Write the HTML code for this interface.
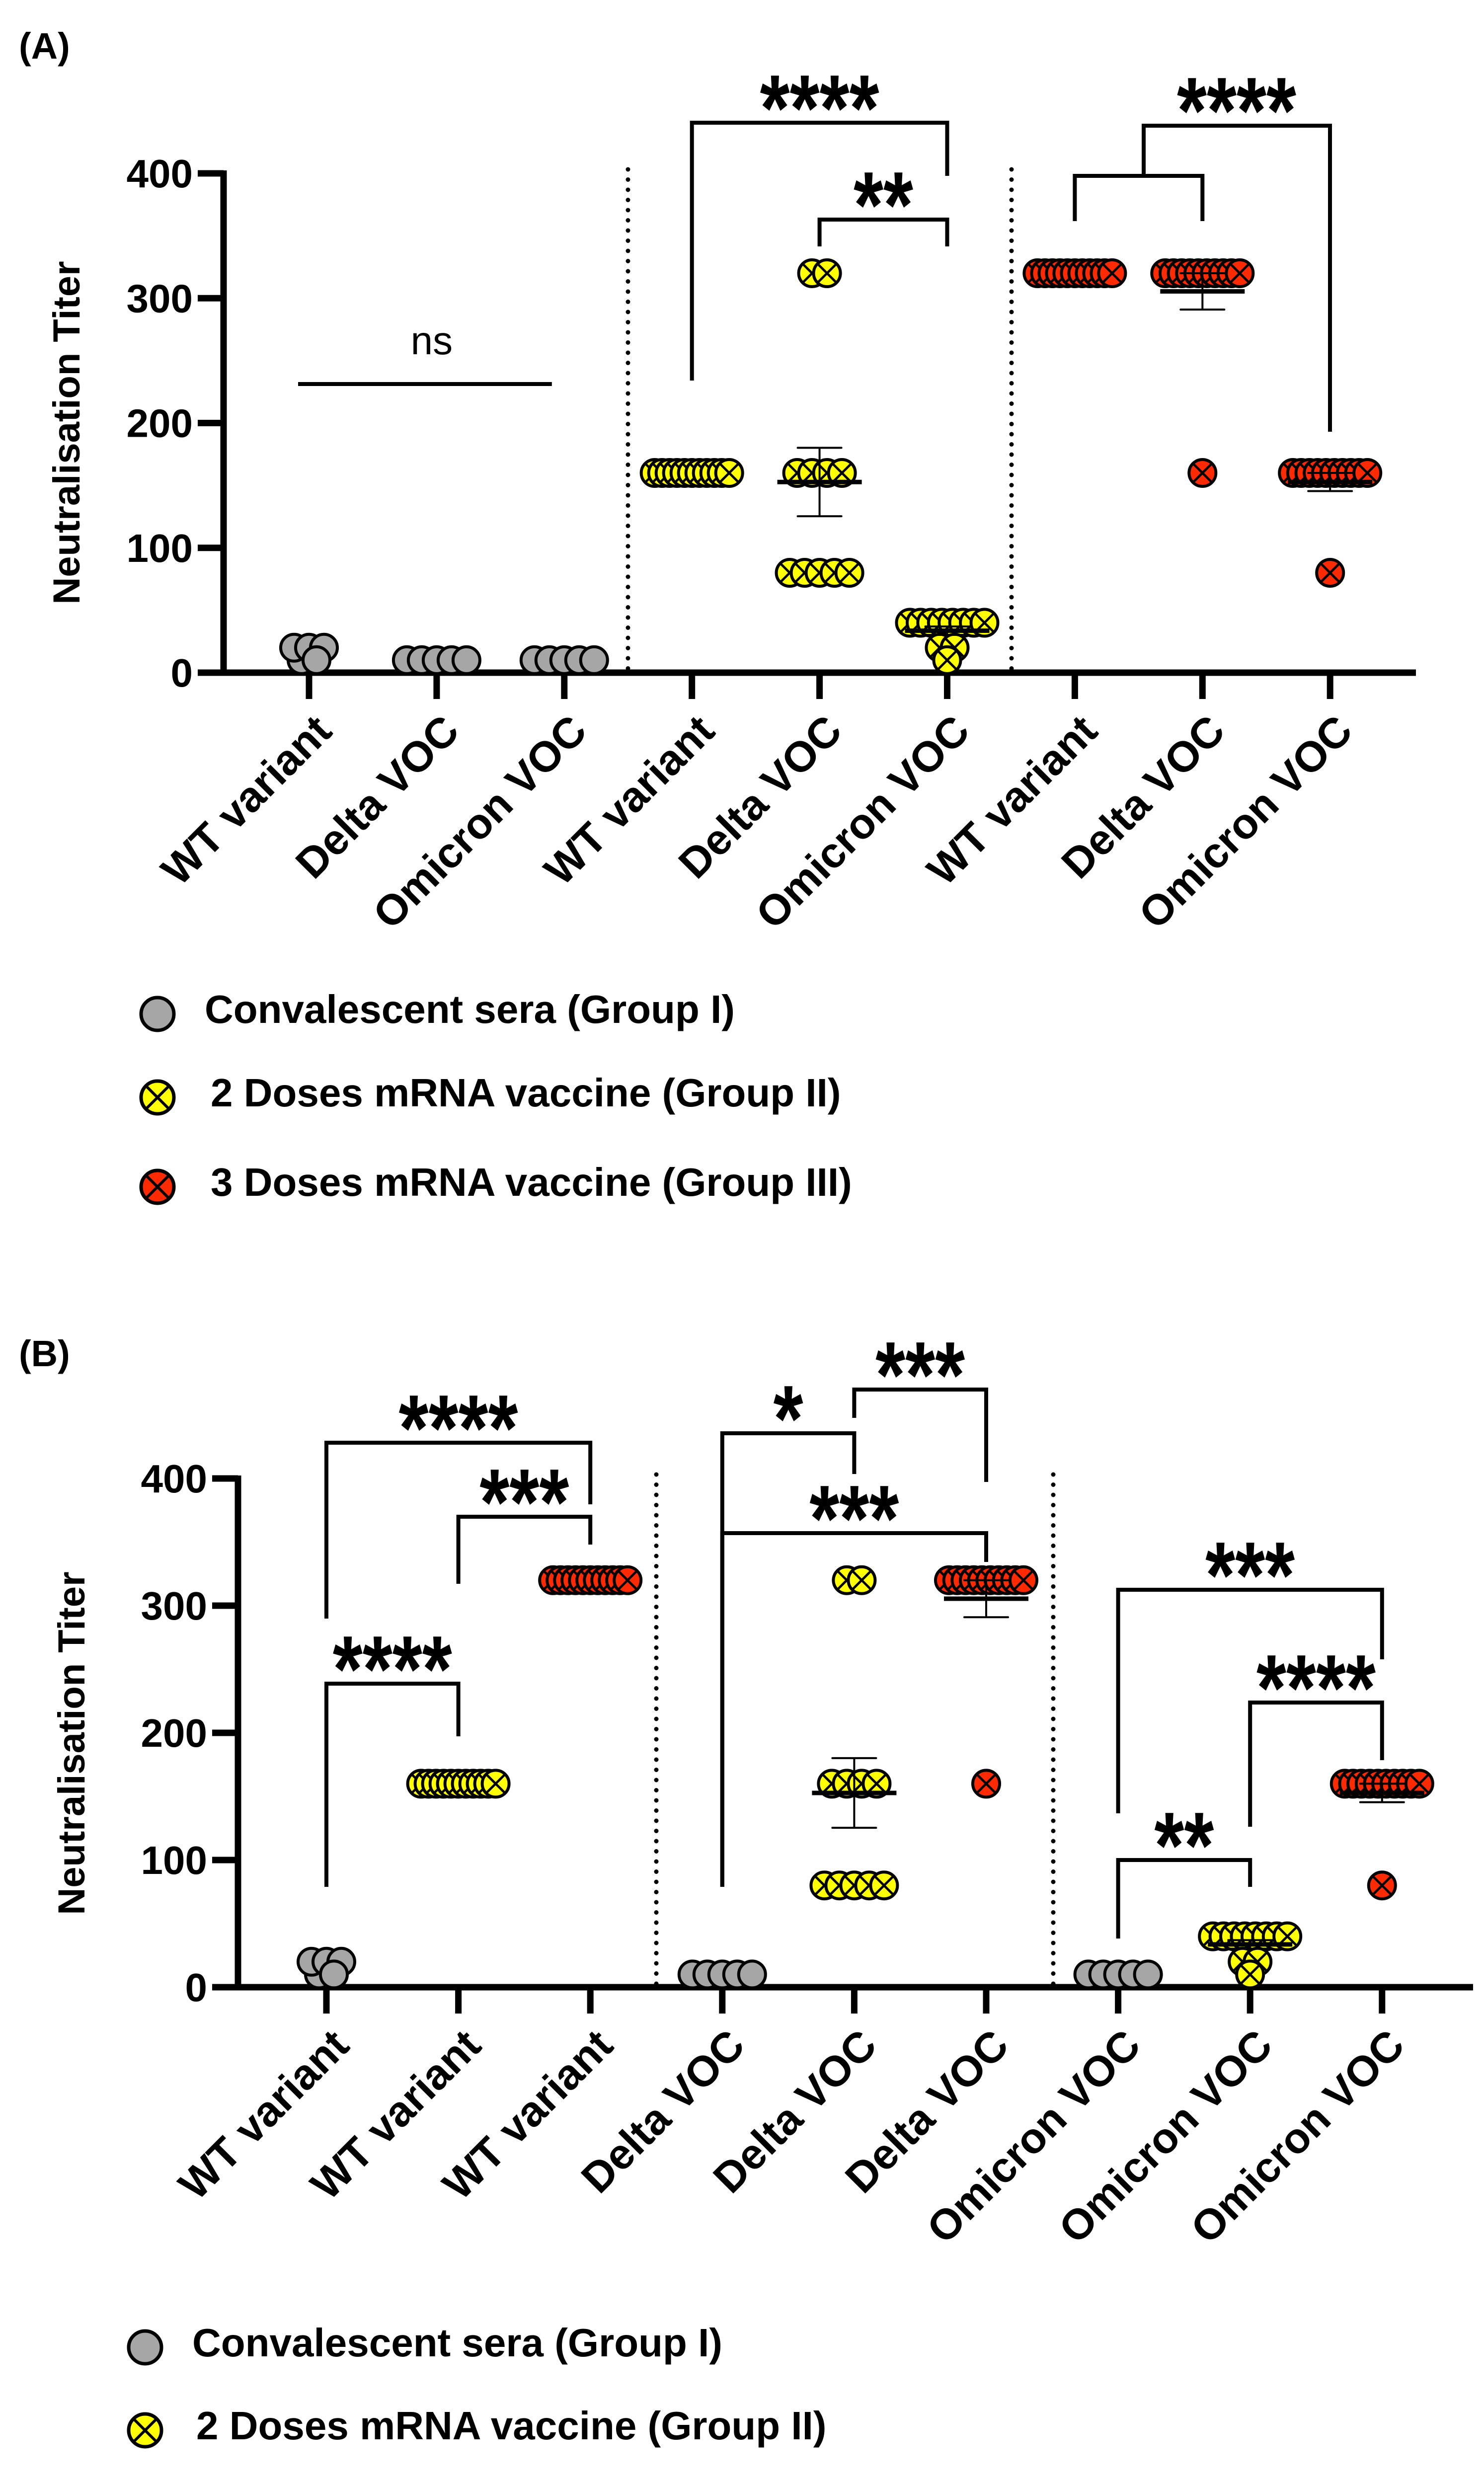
<!DOCTYPE html>
<html><head><meta charset="utf-8"><style>
html,body{margin:0;padding:0;background:#fff;width:2987px;height:5163px;overflow:hidden;}
svg{display:block;font-family:"Liberation Sans",Arial,sans-serif;}
</style></head><body>
<svg id="fig" xmlns="http://www.w3.org/2000/svg" width="2987" height="5163" viewBox="0 0 2987 5163">
<rect width="2987" height="5163" fill="#fff"/>
</svg>
<script>
// ---- data ----
const yTicks = [0, 100, 200, 300, 400];
const seriesNames = ["Convalescent sera (Group I)", "2 Doses mRNA vaccine (Group II)", "3 Doses mRNA vaccine (Group III)"];
const seriesLegendText = ["Convalescent sera (Group I)", "2 Doses mRNA vaccine (Group II)", "3 Doses mRNA vaccine (Group III)"];
const variants = ["WT variant", "Delta VOC", "Omicron VOC"];
const g1WT = [10, 20, 20, 20, 10];
const g1Delta = [10, 10, 10, 10, 10];
const g1Omicron = [10, 10, 10, 10, 10];
const g2WT = [160,160,160,160,160,160,160,160,160,160,160];
const g2Delta = [320,320,160,160,160,160,80,80,80,80,80];
const g2Omicron = [40,40,40,40,40,40,40,40,20,20,10];
const g3WT = [320,320,320,320,320,320,320,320,320,320,320];
const g3Delta = [320,320,320,320,320,320,320,320,320,320,160];
const g3Omicron = [160,160,160,160,160,160,160,160,160,160,80];
const panelALabels = ["WT variant","Delta VOC","Omicron VOC","WT variant","Delta VOC","Omicron VOC","WT variant","Delta VOC","Omicron VOC"];
const panelASeries = [0,0,0,1,1,1,2,2,2];
const panelAData = [g1WT,g1Delta,g1Omicron,g2WT,g2Delta,g2Omicron,g3WT,g3Delta,g3Omicron];
const panelBLabels = ["WT variant","WT variant","WT variant","Delta VOC","Delta VOC","Delta VOC","Omicron VOC","Omicron VOC","Omicron VOC"];
const panelBSeries = [0,1,2,0,1,2,0,1,2];
const panelBData = [g1WT,g2WT,g3WT,g1Delta,g2Delta,g3Delta,g1Omicron,g2Omicron,g3Omicron];
const panelASig = [
  [3,5,247,766,354,"****"],
  [4,5,442,496,496,"**"],
  [6,7,354,445,445,""],
];
const panelANs = [[0,2,773,"ns"]];
const panelBSig = [
  [0,2,2904,3258,3028,"****"],
  [1,2,3053,3188,3109,"***"],
  [0,1,3389,3798,3495,"****"],
  [3,4,2885,3798,2967,"*"],
  [4,5,2797,2854,2983,"***"],
  [3,5,3086,3798,3144,"***"],
  [6,8,3200,3650,3340,"***"],
  [7,8,3427,3677,3543,"****"],
  [6,7,3744,3902,3798,"**"],
];
const fills = ["#a6a6a6","#ffff00","#ff2a00"];
const NS = "http://www.w3.org/2000/svg";
const svg = document.getElementById("fig");
function mk(tag, attrs, parent){
  const e = document.createElementNS(NS, tag);
  for (const k in attrs) e.setAttribute(k, attrs[k]);
  (parent||svg).appendChild(e);
  return e;
}
function marker(g, cx, cy, r, s, sw){
  mk("circle",{cx:cx,cy:cy,r:r,fill:fills[s],stroke:"#000","stroke-width":sw},g);
  if (s>0){
    const d = r*0.72;
    mk("line",{x1:cx-d,y1:cy-d,x2:cx+d,y2:cy+d,stroke:"#000","stroke-width":sw*0.8},g);
    mk("line",{x1:cx-d,y1:cy+d,x2:cx+d,y2:cy-d,stroke:"#000","stroke-width":sw*0.8},g);
  }
}
function panel(cfg){
  const P = mk("g",{});
  
  
  const py = v => cfg.y0 - v*cfg.ys;
  const px = i => cfg.x0 + i*cfg.step;
  const lt = mk("text",{x:38,y:cfg.letterY,"font-size":74,"font-weight":"bold"},P);
  lt.textContent = cfg.letter;
  
  
  cfg.seps.forEach(sx=>{
    const l = mk("line",{x1:sx,y1:py(400)-8,x2:sx,y2:cfg.y0,stroke:"#000","stroke-width":9,"stroke-dasharray":"0 20.5","stroke-linecap":"round"},P);
    
    
  });
  const ya = mk("g",{},P);
  
  
  mk("line",{x1:cfg.ax,y1:py(400)-6,x2:cfg.ax,y2:cfg.y0+6,stroke:"#000","stroke-width":13},ya);
  yTicks.forEach(t=>{
    mk("line",{x1:cfg.ax-52,y1:py(t),x2:cfg.ax,y2:py(t),stroke:"#000","stroke-width":13},ya);
    const tx = mk("text",{x:cfg.ax-62,y:py(t)+28,"font-size":80,"font-weight":"bold","text-anchor":"end"},ya);
    tx.textContent = t;
    
    
  });
  const yt = mk("text",{x:0,y:0,"font-size":76,"font-weight":"bold","text-anchor":"middle",transform:`translate(${cfg.titleX},${cfg.titleY}) rotate(-90)`},ya);
  yt.textContent = "Neutralisation Titer";
  
  
  const xa = mk("g",{},P);
  
  
  mk("line",{x1:cfg.ax-52,y1:cfg.y0,x2:cfg.axEnd,y2:cfg.y0,stroke:"#000","stroke-width":13},xa);
  cfg.labels.forEach((lab,i)=>{
    mk("line",{x1:px(i),y1:cfg.y0,x2:px(i),y2:cfg.y0+53,stroke:"#000","stroke-width":13},xa);
    const tx = mk("text",{x:0,y:0,"font-size":86,"font-weight":"bold","text-anchor":"end",transform:`translate(${px(i)+50},${cfg.y0+122}) rotate(-45)`},xa);
    tx.textContent = lab;
    
    
  });
  cfg.data.forEach((vals,i)=>{
    const s = cfg.series[i];
    const g = mk("g",{},P);
    
    
    const clusters = {};
    vals.forEach(v=>{ clusters[v]=(clusters[v]||0)+1; });
    const seen = {};
    vals.forEach(v=>{
      const n = clusters[v];
      const sp = n<=5 ? 30 : 150/(n-1);
      const j = seen[v]||0; seen[v]=j+1;
      const cx = px(i) + (j-(n-1)/2)*sp;
      const pg = mk("g",{},g);
      
      
      marker(pg, cx, py(v), 27, s, 6);
    });
    const n = vals.length;
    const mean = vals.reduce((a,b)=>a+b,0)/n;
    const sd = Math.sqrt(vals.reduce((a,b)=>a+(b-mean)*(b-mean),0)/(n-1));
    const sem = sd/Math.sqrt(n);
    if (s>0 && sem>0.01){
      const eb = mk("g",{},g);
      
      
      mk("line",{x1:px(i),y1:py(mean+sem),x2:px(i),y2:py(mean-sem),stroke:"#000","stroke-width":4},eb);
      mk("line",{x1:px(i)-44,y1:py(mean+sem),x2:px(i)+44,y2:py(mean+sem),stroke:"#000","stroke-width":4,"stroke-linecap":"round"},eb);
      mk("line",{x1:px(i)-44,y1:py(mean-sem),x2:px(i)+44,y2:py(mean-sem),stroke:"#000","stroke-width":4,"stroke-linecap":"round"},eb);
      mk("line",{x1:px(i)-85,y1:py(mean),x2:px(i)+85,y2:py(mean),stroke:"#000","stroke-width":9},eb);
    }
  });
  cfg.sig.forEach(b=>{
    const g = mk("g",{},P);
    
    
    const xl = px(b[0]), xr = px(b[1]);
    mk("polyline",{points:`${xl},${b[3]} ${xl},${b[2]} ${xr},${b[2]} ${xr},${b[4]}`,fill:"none",stroke:"#000","stroke-width":8},g);
    if (b[5]){
      const n = b[5].length;
      const t = mk("text",{x:(xl+xr)/2,y:b[2]-70+106,"font-size":190,"font-weight":"bold","text-anchor":"middle",textLength:n*60,lengthAdjust:"spacingAndGlyphs"},g);
      t.textContent = b[5];
      
      
    }
  });
  (cfg.ns||[]).forEach(b=>{
    const g = mk("g",{},P);
    
    
    mk("line",{x1:px(b[0])-22,y1:b[2],x2:px(b[1])-25,y2:b[2],stroke:"#000","stroke-width":8},g);
    const t = mk("text",{x:(px(b[0])+px(b[1]))/2-10,y:b[2]-60,"font-size":80,"text-anchor":"middle"},g);
    t.textContent = b[3];
    
    
  });
  const lg = mk("g",{},P);
  
  
  seriesLegendText.forEach((txt,s)=>{
    const e = mk("g",{},lg);
    
    
    marker(e, cfg.legX, cfg.legY[s], 33, s, 7);
    const t = mk("text",{x:cfg.legTX[s],y:cfg.legY[s]+18,"font-size":80,"font-weight":"bold"},e);
    t.textContent = txt;
  });
}
panel({name:"panel-a",letter:"(A)",letterY:118,x0:622,step:256.9,y0:1354,ys:2.5125,ax:450,axEnd:2850,
  seps:[1264,2036],titleX:160,titleY:871,labels:panelALabels,series:panelASeries,data:panelAData,
  sig:panelASig,ns:panelANs,legX:317,legY:[2041,2209,2389],legTX:[412,424,424]});
(function(){
  const g = mk("g",{});
  
  
  mk("polyline",{points:"2302,354 2302,253 2677,253 2677,869",fill:"none",stroke:"#000","stroke-width":8},g);
  const t = mk("text",{x:2489,y:288,"font-size":190,"font-weight":"bold","text-anchor":"middle",textLength:240,lengthAdjust:"spacingAndGlyphs"},g);
  t.textContent = "****";
  
  
})();
panel({name:"panel-b",letter:"(B)",letterY:2750,x0:657,step:265.6,y0:4000,ys:2.56,ax:479,axEnd:2965,
  seps:[1321,2120],titleX:170,titleY:3509,labels:panelBLabels,series:panelBSeries,data:panelBData,
  sig:panelBSig,legX:292,legY:[4725,4892,5073],legTX:[387,395,395]});
</script>
</body></html>
